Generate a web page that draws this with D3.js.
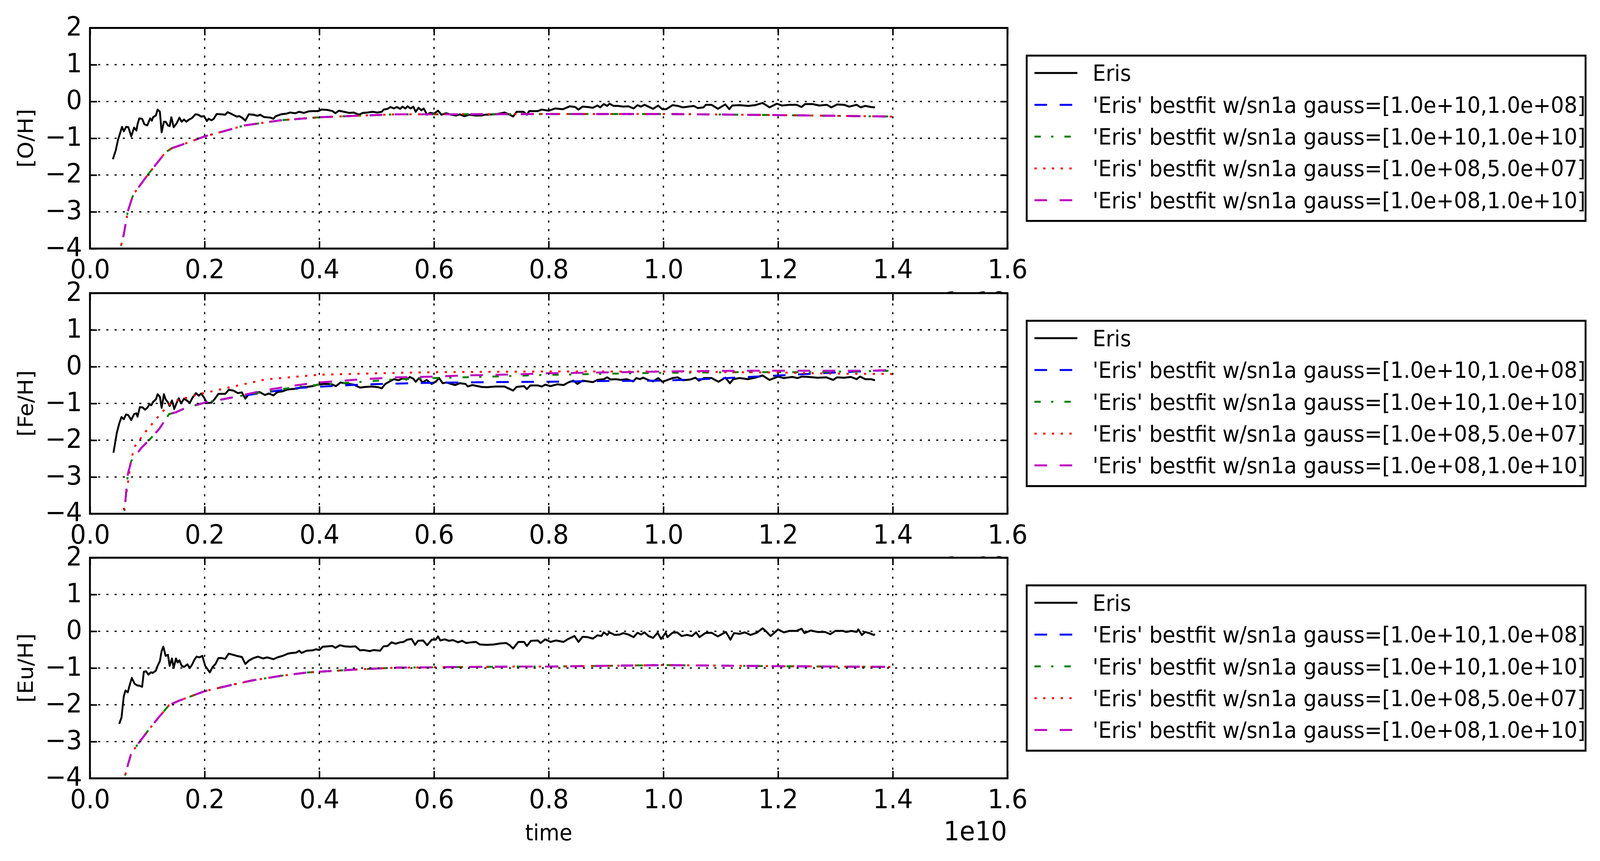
<!DOCTYPE html>
<html>
<head>
<meta charset="utf-8">
<script src="https://cdn.jsdelivr.net/npm/d3@7"></script>
<style>
html, body { margin: 0; padding: 0; background: #fff; overflow: hidden; }
svg { display: block; width: 100vw; height: 100vh; }
text { font-family: "DejaVu Sans", sans-serif; fill: #000; }
</style>
</head>
<body>
<script>
// time is in units of 1e10 (matplotlib offset text)
var xTicks = [0, 0.2, 0.4, 0.6, 0.8, 1.0, 1.2, 1.4, 1.6],
    yTicks = [-4, -3, -2, -1, 0, 1, 2],
    panelLabels = ['[O/H]', '[Fe/H]', '[Eu/H]'],
    legendLabels = ['Eris',
        "'Eris' bestfit w/sn1a gauss=[1.0e+10,1.0e+08]",
        "'Eris' bestfit w/sn1a gauss=[1.0e+10,1.0e+10]",
        "'Eris' bestfit w/sn1a gauss=[1.0e+08,5.0e+07]",
        "'Eris' bestfit w/sn1a gauss=[1.0e+08,1.0e+10]"];

var erisOH = [[0.040,-1.57],[0.045,-1.33],[0.049,-1.04],[0.053,-0.84],[0.056,-0.69],[0.059,-0.81],[0.063,-0.69],[0.067,-0.70],
    [0.072,-0.95],[0.077,-0.71],[0.081,-0.79],[0.083,-0.62],[0.086,-0.46],[0.091,-0.47],[0.095,-0.62],[0.100,-0.65],[0.105,-0.46],
    [0.108,-0.52],[0.110,-0.43],[0.115,-0.38],[0.118,-0.22],[0.122,-0.28],[0.125,-0.84],[0.129,-0.55],[0.132,-0.55],[0.136,-0.65],
    [0.139,-0.67],[0.142,-0.43],[0.146,-0.70],[0.151,-0.60],[0.156,-0.44],[0.160,-0.55],[0.164,-0.49],[0.168,-0.55],[0.173,-0.49],
    [0.178,-0.45],[0.184,-0.35],[0.189,-0.36],[0.194,-0.41],[0.199,-0.40],[0.204,-0.53],[0.207,-0.47],[0.212,-0.51],[0.216,-0.47],
    [0.221,-0.34],[0.229,-0.35],[0.236,-0.36],[0.240,-0.29],[0.247,-0.34],[0.256,-0.41],[0.261,-0.40],[0.266,-0.45],[0.271,-0.52],
    [0.277,-0.35],[0.285,-0.36],[0.292,-0.39],[0.297,-0.36],[0.303,-0.42],[0.308,-0.43],[0.315,-0.44],[0.320,-0.47],[0.324,-0.40],
    [0.333,-0.35],[0.343,-0.33],[0.349,-0.30],[0.358,-0.32],[0.365,-0.28],[0.373,-0.31],[0.381,-0.27],[0.390,-0.26],[0.398,-0.26],
    [0.404,-0.22],[0.414,-0.23],[0.423,-0.26],[0.428,-0.32],[0.434,-0.25],[0.443,-0.28],[0.452,-0.31],[0.460,-0.30],[0.469,-0.36],
    [0.476,-0.31],[0.484,-0.30],[0.493,-0.28],[0.501,-0.30],[0.509,-0.28],[0.512,-0.22],[0.519,-0.20],[0.524,-0.15],[0.530,-0.19],
    [0.535,-0.15],[0.541,-0.20],[0.545,-0.14],[0.550,-0.19],[0.554,-0.13],[0.559,-0.19],[0.564,-0.14],[0.568,-0.28],[0.573,-0.17],
    [0.578,-0.24],[0.582,-0.19],[0.588,-0.36],[0.593,-0.31],[0.600,-0.33],[0.607,-0.25],[0.613,-0.36],[0.621,-0.32],[0.630,-0.36],
    [0.639,-0.38],[0.645,-0.35],[0.653,-0.40],[0.661,-0.36],[0.672,-0.38],[0.683,-0.38],[0.689,-0.36],[0.707,-0.35],[0.723,-0.30],
    [0.732,-0.36],[0.738,-0.41],[0.744,-0.28],[0.756,-0.28],[0.762,-0.36],[0.766,-0.26],[0.781,-0.26],[0.788,-0.22],[0.800,-0.25],
    [0.811,-0.19],[0.825,-0.21],[0.837,-0.13],[0.846,-0.15],[0.852,-0.22],[0.859,-0.14],[0.868,-0.15],[0.877,-0.17],[0.885,-0.11],
    [0.890,-0.16],[0.896,-0.07],[0.902,-0.12],[0.906,-0.06],[0.913,-0.12],[0.921,-0.12],[0.930,-0.14],[0.939,-0.13],[0.948,-0.19],
    [0.955,-0.10],[0.961,-0.14],[0.967,-0.09],[0.974,-0.14],[0.982,-0.20],[0.991,-0.11],[0.998,-0.21],[1.005,-0.21],[1.016,-0.10],
    [1.025,-0.12],[1.034,-0.16],[1.044,-0.14],[1.053,-0.12],[1.060,-0.18],[1.070,-0.16],[1.074,-0.09],[1.084,-0.09],[1.095,-0.20],
    [1.108,-0.08],[1.115,-0.21],[1.120,-0.11],[1.133,-0.10],[1.148,-0.12],[1.160,-0.10],[1.173,-0.04],[1.185,-0.16],[1.198,-0.06],
    [1.207,-0.11],[1.220,-0.09],[1.232,-0.09],[1.241,-0.15],[1.247,-0.07],[1.260,-0.07],[1.272,-0.11],[1.285,-0.09],[1.293,-0.16],
    [1.303,-0.08],[1.315,-0.09],[1.324,-0.14],[1.337,-0.09],[1.344,-0.16],[1.352,-0.12],[1.362,-0.15],[1.369,-0.16]];

var erisFe = [[0.041,-2.34],[0.047,-1.79],[0.051,-1.55],[0.055,-1.37],[0.059,-1.43],[0.063,-1.30],[0.067,-1.32],[0.072,-1.45],
    [0.077,-1.29],[0.081,-1.27],[0.083,-1.36],[0.087,-1.10],[0.092,-1.11],[0.096,-1.17],[0.100,-1.12],[0.104,-1.02],[0.107,-1.05],
    [0.110,-0.96],[0.115,-0.89],[0.118,-0.75],[0.122,-0.82],[0.125,-1.12],[0.129,-0.75],[0.132,-0.89],[0.136,-0.97],[0.139,-1.07],
    [0.143,-0.92],[0.147,-1.15],[0.151,-0.99],[0.155,-0.86],[0.159,-1.00],[0.164,-0.87],[0.170,-0.93],[0.174,-0.99],[0.179,-0.84],
    [0.185,-0.72],[0.190,-0.79],[0.194,-0.73],[0.199,-0.84],[0.204,-0.99],[0.212,-0.98],[0.217,-0.89],[0.224,-0.74],[0.236,-0.74],
    [0.242,-0.63],[0.250,-0.65],[0.258,-0.72],[0.265,-0.70],[0.271,-0.87],[0.277,-0.75],[0.286,-0.72],[0.296,-0.69],[0.305,-0.77],
    [0.312,-0.73],[0.320,-0.78],[0.327,-0.69],[0.336,-0.67],[0.345,-0.62],[0.352,-0.61],[0.360,-0.60],[0.369,-0.56],[0.378,-0.55],
    [0.388,-0.53],[0.397,-0.49],[0.408,-0.47],[0.420,-0.47],[0.429,-0.53],[0.437,-0.43],[0.448,-0.46],[0.460,-0.49],[0.471,-0.57],
    [0.480,-0.55],[0.492,-0.54],[0.503,-0.56],[0.509,-0.59],[0.515,-0.47],[0.523,-0.40],[0.530,-0.34],[0.538,-0.37],[0.545,-0.32],
    [0.552,-0.35],[0.558,-0.28],[0.564,-0.33],[0.568,-0.41],[0.574,-0.31],[0.580,-0.43],[0.587,-0.36],[0.596,-0.47],[0.603,-0.41],
    [0.609,-0.31],[0.615,-0.45],[0.622,-0.43],[0.630,-0.47],[0.637,-0.50],[0.645,-0.45],[0.655,-0.47],[0.659,-0.54],[0.667,-0.50],
    [0.676,-0.53],[0.683,-0.55],[0.692,-0.56],[0.707,-0.54],[0.723,-0.54],[0.731,-0.60],[0.738,-0.65],[0.744,-0.55],[0.757,-0.53],
    [0.762,-0.61],[0.768,-0.51],[0.781,-0.51],[0.788,-0.54],[0.794,-0.49],[0.803,-0.53],[0.815,-0.48],[0.826,-0.50],[0.834,-0.43],
    [0.843,-0.38],[0.850,-0.47],[0.859,-0.38],[0.868,-0.40],[0.877,-0.42],[0.885,-0.36],[0.896,-0.34],[0.902,-0.29],[0.908,-0.35],
    [0.917,-0.34],[0.926,-0.36],[0.936,-0.34],[0.947,-0.40],[0.953,-0.31],[0.959,-0.34],[0.965,-0.30],[0.973,-0.36],[0.982,-0.40],
    [0.991,-0.31],[0.998,-0.41],[1.004,-0.38],[1.016,-0.31],[1.025,-0.29],[1.034,-0.37],[1.047,-0.35],[1.056,-0.30],[1.062,-0.38],
    [1.071,-0.31],[1.084,-0.31],[1.096,-0.41],[1.108,-0.30],[1.116,-0.45],[1.122,-0.34],[1.133,-0.31],[1.148,-0.34],[1.160,-0.30],
    [1.173,-0.24],[1.185,-0.36],[1.200,-0.27],[1.210,-0.31],[1.225,-0.28],[1.234,-0.31],[1.241,-0.27],[1.253,-0.28],[1.269,-0.30],
    [1.284,-0.29],[1.296,-0.36],[1.303,-0.29],[1.315,-0.30],[1.327,-0.28],[1.337,-0.34],[1.343,-0.27],[1.352,-0.34],[1.362,-0.34],
    [1.369,-0.37]];

var erisEu = [[0.051,-2.52],[0.055,-2.35],[0.059,-1.77],[0.062,-1.61],[0.066,-1.66],[0.069,-1.48],[0.073,-1.27],[0.078,-1.43],
    [0.082,-1.47],[0.086,-1.48],[0.091,-1.51],[0.094,-1.10],[0.098,-1.09],[0.102,-1.18],[0.106,-1.12],[0.110,-1.13],[0.115,-1.07],
    [0.118,-0.94],[0.122,-0.81],[0.125,-0.54],[0.128,-0.42],[0.132,-0.67],[0.136,-0.64],[0.139,-0.94],[0.143,-0.74],[0.146,-1.00],
    [0.150,-0.74],[0.153,-0.85],[0.156,-0.79],[0.160,-0.94],[0.164,-0.97],[0.170,-0.90],[0.174,-1.00],[0.178,-0.91],[0.182,-0.78],
    [0.186,-0.69],[0.191,-0.71],[0.196,-0.67],[0.201,-0.94],[0.209,-1.12],[0.214,-0.97],[0.219,-0.89],[0.224,-0.73],[0.230,-0.73],
    [0.236,-0.75],[0.242,-0.61],[0.247,-0.63],[0.256,-0.67],[0.265,-0.70],[0.271,-0.89],[0.277,-0.80],[0.285,-0.73],[0.293,-0.69],
    [0.302,-0.74],[0.309,-0.71],[0.320,-0.76],[0.327,-0.71],[0.336,-0.67],[0.345,-0.61],[0.352,-0.59],[0.360,-0.58],[0.365,-0.53],
    [0.369,-0.59],[0.378,-0.53],[0.388,-0.52],[0.394,-0.49],[0.400,-0.51],[0.406,-0.42],[0.415,-0.41],[0.423,-0.40],[0.428,-0.45],
    [0.436,-0.38],[0.444,-0.41],[0.454,-0.42],[0.463,-0.41],[0.471,-0.52],[0.477,-0.51],[0.488,-0.54],[0.495,-0.51],[0.506,-0.53],
    [0.512,-0.41],[0.519,-0.40],[0.526,-0.30],[0.533,-0.34],[0.541,-0.30],[0.547,-0.29],[0.553,-0.23],[0.561,-0.21],[0.567,-0.37],
    [0.572,-0.26],[0.581,-0.25],[0.588,-0.38],[0.596,-0.23],[0.603,-0.23],[0.607,-0.14],[0.611,-0.25],[0.619,-0.22],[0.626,-0.26],
    [0.633,-0.24],[0.642,-0.30],[0.649,-0.26],[0.656,-0.32],[0.665,-0.30],[0.673,-0.29],[0.680,-0.36],[0.692,-0.37],[0.704,-0.36],
    [0.716,-0.33],[0.726,-0.32],[0.732,-0.38],[0.738,-0.47],[0.747,-0.29],[0.757,-0.29],[0.762,-0.40],[0.769,-0.26],[0.781,-0.25],
    [0.786,-0.32],[0.794,-0.22],[0.803,-0.29],[0.813,-0.25],[0.826,-0.29],[0.834,-0.21],[0.845,-0.13],[0.852,-0.29],[0.859,-0.15],
    [0.868,-0.16],[0.877,-0.20],[0.885,-0.11],[0.892,-0.13],[0.896,-0.03],[0.902,-0.10],[0.906,-0.03],[0.915,-0.10],[0.924,-0.09],
    [0.930,-0.05],[0.939,-0.09],[0.948,-0.16],[0.955,-0.04],[0.961,-0.09],[0.967,-0.03],[0.974,-0.13],[0.982,-0.18],[0.990,-0.04],
    [0.996,-0.21],[1.004,-0.04],[1.007,-0.16],[1.016,-0.04],[1.024,-0.03],[1.032,-0.13],[1.041,-0.10],[1.050,-0.13],[1.057,-0.03],
    [1.063,-0.16],[1.073,-0.05],[1.084,-0.04],[1.095,-0.14],[1.103,-0.07],[1.109,-0.02],[1.117,-0.23],[1.123,-0.05],[1.133,-0.07],
    [1.142,-0.03],[1.152,-0.10],[1.163,-0.04],[1.173,0.08],[1.179,0.00],[1.187,-0.13],[1.200,0.05],[1.210,-0.03],[1.220,0.01],
    [1.232,0.01],[1.241,0.07],[1.246,-0.05],[1.257,0.02],[1.269,-0.02],[1.282,-0.02],[1.291,-0.08],[1.300,0.01],[1.313,0.01],
    [1.319,-0.02],[1.328,0.01],[1.337,-0.02],[1.340,0.05],[1.346,-0.10],[1.352,-0.02],[1.359,-0.05],[1.367,-0.10],[1.369,-0.08]];

// best fits; for [O/H] and [Eu/H] the four fits lie on top of each other
var fitOH = [[0.050,-4.4],[0.053,-4.0],[0.059,-3.62],[0.066,-2.99],[0.074,-2.60],[0.078,-2.48],[0.101,-1.99],[0.132,-1.38],
    [0.143,-1.27],[0.167,-1.14],[0.200,-0.95],[0.247,-0.75],[0.270,-0.65],[0.333,-0.51],[0.400,-0.43],[0.477,-0.38],[0.535,-0.35],
    [0.600,-0.35],[0.800,-0.34],[1.000,-0.34],[1.200,-0.37],[1.400,-0.41]];

var fitFeBlue = [[0.058,-4.4],[0.060,-3.97],[0.066,-2.93],[0.072,-2.57],[0.089,-2.22],[0.106,-1.95],[0.121,-1.69],[0.138,-1.29],
    [0.150,-1.24],[0.167,-1.12],[0.200,-0.98],[0.247,-0.84],[0.305,-0.70],[0.362,-0.58],[0.406,-0.54],[0.455,-0.50],[0.506,-0.47],
    [0.593,-0.44],[0.700,-0.42],[0.800,-0.41],[0.900,-0.39],[1.000,-0.38],[1.100,-0.32],[1.200,-0.24],[1.300,-0.16],[1.400,-0.09]];
var fitFeGreen = [[0.058,-4.4],[0.060,-3.97],[0.066,-2.93],[0.072,-2.57],[0.089,-2.22],[0.106,-1.95],[0.121,-1.69],[0.138,-1.29],
    [0.150,-1.24],[0.167,-1.12],[0.200,-0.98],[0.247,-0.84],[0.305,-0.68],[0.362,-0.55],[0.400,-0.49],[0.477,-0.41],[0.535,-0.34],
    [0.600,-0.31],[0.700,-0.27],[0.778,-0.23],[0.880,-0.20],[0.980,-0.17],[1.130,-0.15],[1.230,-0.15],[1.330,-0.13],[1.400,-0.11]];
var fitFeRed = [[0.056,-4.4],[0.058,-4.0],[0.066,-3.2],[0.072,-2.5],[0.079,-2.15],[0.097,-1.77],[0.125,-1.25],[0.143,-0.96],
    [0.190,-0.75],[0.247,-0.55],[0.305,-0.35],[0.362,-0.27],[0.400,-0.22],[0.500,-0.18],[0.600,-0.15],[0.800,-0.13],[1.000,-0.13],
    [1.200,-0.16],[1.300,-0.19],[1.400,-0.20]];
var fitFeMagenta = [[0.058,-4.4],[0.060,-3.97],[0.066,-2.93],[0.072,-2.57],[0.089,-2.22],[0.106,-1.95],[0.121,-1.69],[0.138,-1.29],
    [0.150,-1.24],[0.167,-1.12],[0.200,-0.98],[0.247,-0.84],[0.305,-0.64],[0.362,-0.50],[0.400,-0.43],[0.477,-0.34],[0.535,-0.29],
    [0.600,-0.27],[0.650,-0.24],[0.742,-0.21],[0.800,-0.18],[0.930,-0.15],[1.050,-0.12],[1.180,-0.11],[1.360,-0.11],[1.400,-0.09]];

var fitEu = [[0.058,-4.4],[0.060,-4.0],[0.065,-3.70],[0.072,-3.32],[0.086,-3.02],[0.101,-2.71],[0.120,-2.34],[0.138,-2.01],
    [0.155,-1.89],[0.200,-1.63],[0.247,-1.46],[0.282,-1.34],[0.334,-1.21],[0.380,-1.12],[0.400,-1.10],[0.477,-1.03],[0.535,-0.99],
    [0.600,-0.98],[0.742,-0.96],[0.800,-0.96],[1.000,-0.92],[1.200,-0.95],[1.400,-0.97]];

var panelSeries = [
    [erisOH, fitOH, fitOH, fitOH, fitOH],
    [erisFe, fitFeBlue, fitFeGreen, fitFeRed, fitFeMagenta],
    [erisEu, fitEu, fitEu, fitEu, fitEu]
];

var colors = ['#000000', '#0000ff', '#008000', '#ff0000', '#bf00bf'],
    dashes = [null, '34,34', '17,28,6,30', '6,17.6', '34,34'];

var W = 4323, H = 2203,
    left = 243, right = 2722,
    tops = [71.5, 750, 1427], ph = 564.5,
    tickFont = 68, smallFont = 56.5;

// drawn in a fixed 4323x2203 box, stretched to whatever the viewport is
var svg = d3.select(document.body).append('svg')
    .attr('viewBox', '0 0 ' + W + ' ' + H)
    .attr('preserveAspectRatio', 'none');
svg.append('rect').attr('width', W).attr('height', H).attr('fill', '#fff');

var x = d3.scaleLinear().domain([0, 1.6]).range([left, right]);

panelSeries.forEach(function (series, i) {
    var top = tops[i], bottom = top + ph,
        y = d3.scaleLinear().domain([-4, 2]).range([bottom, top]),
        g = svg.append('g');

    g.append('clipPath').attr('id', 'clip' + i)
        .append('rect').attr('x', left).attr('y', top)
        .attr('width', right - left).attr('height', ph);
    g.append('rect').attr('x', left).attr('y', top)
        .attr('width', right - left).attr('height', ph).attr('fill', '#fff');

    var line = d3.line().x(function (d) { return x(d[0]); }).y(function (d) { return y(d[1]); });
    g.append('g').attr('clip-path', 'url(#clip' + i + ')')
        .selectAll('path').data(series).enter().append('path')
        .attr('d', line)
        .attr('fill', 'none')
        .attr('stroke', function (d, k) { return colors[k]; })
        .attr('stroke-width', 5)
        .attr('stroke-linejoin', 'round')
        .attr('stroke-dasharray', function (d, k) { return dashes[k]; });

    // dotted grid
    var grid = g.append('g').attr('stroke', '#000').attr('stroke-width', 3.5)
        .attr('stroke-dasharray', '5.5,16.7');
    grid.selectAll('.gx').data(xTicks).enter().append('line')
        .attr('x1', x).attr('x2', x).attr('y1', bottom).attr('y2', top);
    grid.selectAll('.gy').data(yTicks).enter().append('line')
        .attr('x1', left).attr('x2', right).attr('y1', y).attr('y2', y);

    // axes with inward ticks on all sides
    var xAxis = g.append('g').attr('transform', 'translate(0,' + bottom + ')')
        .call(d3.axisBottom(x).tickValues(xTicks).tickFormat(d3.format('.1f'))
            .tickSizeInner(-19).tickSizeOuter(0).tickPadding(28));
    var yAxis = g.append('g').attr('transform', 'translate(' + left + ',0)')
        .call(d3.axisLeft(y).tickValues(yTicks).tickFormat(d3.format('d'))
            .tickSizeInner(-19).tickSizeOuter(0).tickPadding(21));
    var xTop = g.append('g').attr('transform', 'translate(0,' + top + ')')
        .call(d3.axisTop(x).tickValues(xTicks).tickFormat('').tickSizeInner(-19).tickSizeOuter(0));
    var yRight = g.append('g').attr('transform', 'translate(' + right + ',0)')
        .call(d3.axisRight(y).tickValues(yTicks).tickFormat('').tickSizeInner(-19).tickSizeOuter(0));
    [xAxis, yAxis, xTop, yRight].forEach(function (a) {
        a.select('.domain').remove();
        a.selectAll('line').attr('stroke', '#000').attr('stroke-width', 4);
        a.selectAll('text').attr('font-size', tickFont).attr('font-family', '"DejaVu Sans", sans-serif');
    });
    yAxis.selectAll('text').attr('dy', '0.28em');

    g.append('rect').attr('x', left).attr('y', top)
        .attr('width', right - left).attr('height', ph)
        .attr('fill', 'none').attr('stroke', '#000').attr('stroke-width', 5);

    g.append('text')
        .attr('transform', 'translate(69,' + (top + ph / 2) + ') rotate(-90)')
        .attr('text-anchor', 'middle').attr('dominant-baseline', 'central')
        .attr('font-size', smallFont).text(panelLabels[i]);

    g.append('text').attr('x', 2721).attr('y', bottom + 158.6)
        .attr('text-anchor', 'end').attr('font-size', tickFont).text('1e10');

    if (i === 2) {
        g.append('text').attr('x', (left + right) / 2).attr('y', bottom + 158.6)
            .attr('text-anchor', 'middle').attr('font-size', smallFont).text('time');
    }

    // legend, centred on the axes, to the right
    var lx = 2774, ly = top + ph / 2 - 211.5,
        legend = g.append('g');
    legend.append('rect').attr('x', lx).attr('y', ly).attr('width', 1510).attr('height', 423)
        .attr('fill', '#fff').attr('stroke', '#000').attr('stroke-width', 5);
    var rows = legend.selectAll('.row').data(legendLabels).enter().append('g')
        .attr('transform', function (d, k) { return 'translate(0,' + (ly + 44.5 + k * 81.4) + ')'; });
    rows.append('line').attr('x1', 2795).attr('x2', 2911).attr('y1', 0).attr('y2', 0)
        .attr('stroke', function (d, k) { return colors[k]; })
        .attr('stroke-width', 5)
        .attr('stroke-dasharray', function (d, k) { return dashes[k]; });
    rows.append('text').attr('x', 2952).attr('y', 20.5)
        .attr('font-size', smallFont).text(function (d) { return d; });
});
</script>
</body>
</html>
